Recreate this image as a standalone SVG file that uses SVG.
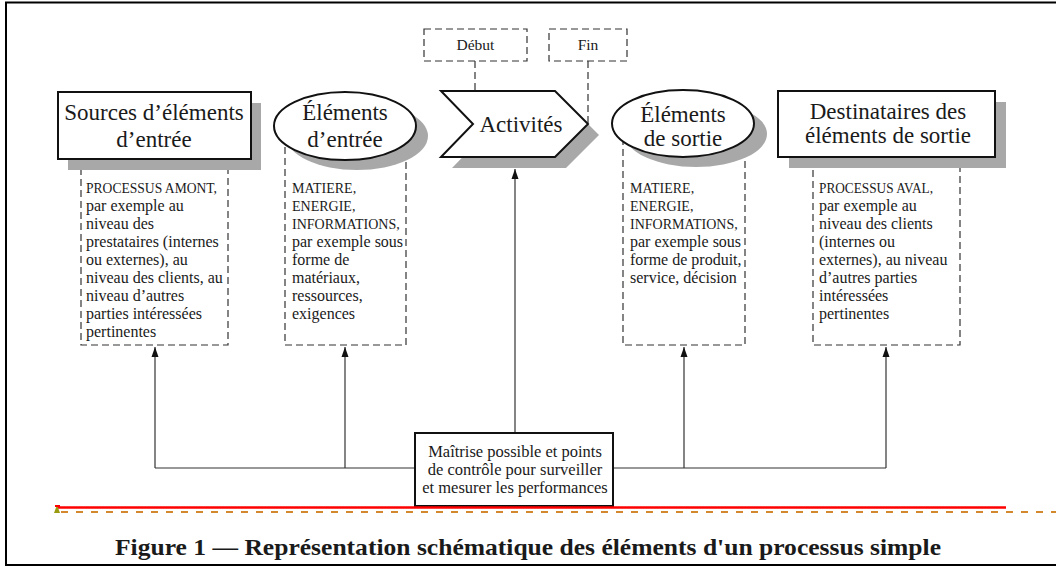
<svg xmlns="http://www.w3.org/2000/svg" width="1056" height="566" viewBox="0 0 1056 566">
<style>
.t{font-family:"Liberation Serif",serif;fill:#1a1a1a}
.big{font-size:23px;text-anchor:middle}
.body{font-size:16px}
.caps{font-size:14px}
.dash{fill:none;stroke:#333;stroke-width:1.2;stroke-dasharray:7 4}
.shape{fill:#fff;stroke:#111;stroke-width:2}
.shadow{fill:#a8a8a8}
.con{fill:none;stroke:#333;stroke-width:1.2}
</style>
<defs>
<marker id="ah" viewBox="0 0 10 10" refX="10" refY="5" markerWidth="10" markerHeight="10" markerUnits="userSpaceOnUse" orient="auto">
<path d="M0,1.5 L10,5 L0,8.5 Z" fill="#111"/>
</marker>
</defs>
<rect x="0" y="0" width="1056" height="566" fill="#fff"/>
<rect x="6" y="2.5" width="1060" height="562.5" fill="none" stroke="#000" stroke-width="2"/>

<g id="sources-details">
<rect class="dash" x="81" y="160" width="147" height="185"/>
<text class="t body" x="86" y="193"><tspan class="caps" textLength="131" lengthAdjust="spacingAndGlyphs">PROCESSUS AMONT,</tspan><tspan x="86" dy="18">par exemple au</tspan><tspan x="86" dy="18">niveau des</tspan><tspan x="86" dy="18">prestataires (internes</tspan><tspan x="86" dy="18">ou externes), au</tspan><tspan x="86" dy="18">niveau des clients, au</tspan><tspan x="86" dy="18">niveau d’autres</tspan><tspan x="86" dy="18">parties intéressées</tspan><tspan x="86" dy="18">pertinentes</tspan></text>
</g>
<g id="entree-details">
<rect class="dash" x="285" y="140" width="121" height="205"/>
<text class="t body" x="292" y="193"><tspan class="caps">MATIERE,</tspan><tspan class="caps" x="292" dy="18">ENERGIE,</tspan><tspan class="caps" x="292" dy="18">INFORMATIONS,</tspan><tspan x="292" dy="18">par exemple sous</tspan><tspan x="292" dy="18">forme de</tspan><tspan x="292" dy="18">matériaux,</tspan><tspan x="292" dy="18">ressources,</tspan><tspan x="292" dy="18">exigences</tspan></text>
</g>
<g id="sortie-details">
<rect class="dash" x="623" y="140" width="122" height="205"/>
<text class="t body" x="630" y="193"><tspan class="caps">MATIERE,</tspan><tspan class="caps" x="630" dy="18">ENERGIE,</tspan><tspan class="caps" x="630" dy="18">INFORMATIONS,</tspan><tspan x="630" dy="18">par exemple sous</tspan><tspan x="630" dy="18">forme de produit,</tspan><tspan x="630" dy="18">service, décision</tspan></text>
</g>
<g id="destinataires-details">
<rect class="dash" x="813" y="158" width="147" height="187"/>
<text class="t body" x="819" y="193"><tspan class="caps" textLength="114" lengthAdjust="spacingAndGlyphs">PROCESSUS AVAL,</tspan><tspan x="819" dy="18">par exemple au</tspan><tspan x="819" dy="18">niveau des clients</tspan><tspan x="819" dy="18">(internes ou</tspan><tspan x="819" dy="18">externes), au niveau</tspan><tspan x="819" dy="18">d’autres parties</tspan><tspan x="819" dy="18">intéressées</tspan><tspan x="819" dy="18">pertinentes</tspan></text>
</g>

<g id="connectors">
<path class="con" d="M155,468 H415 M613,468 H886"/>
<path class="con" d="M155,468 V347" marker-end="url(#ah)"/>
<path class="con" d="M345,468 V347" marker-end="url(#ah)"/>
<path class="con" d="M684,468 V347" marker-end="url(#ah)"/>
<path class="con" d="M886,468 V347" marker-end="url(#ah)"/>
<path class="con" d="M515,433 V169" marker-end="url(#ah)"/>
<path class="dash" d="M475,61 V124 M588,61 V124"/>
</g>

<g id="sources">
<rect class="shadow" x="68" y="103" width="193" height="67"/>
<rect class="shape" x="58" y="92" width="193" height="67"/>
<text class="t big" x="154" y="120">Sources d’éléments</text>
<text class="t big" x="154" y="147">d’entrée</text>
</g>
<g id="elements-entree">
<ellipse class="shadow" cx="357" cy="136" rx="71" ry="34"/>
<ellipse class="shape" cx="345" cy="126" rx="71" ry="34"/>
<text class="t big" x="345" y="120">Éléments</text>
<text class="t big" x="345" y="147">d’entrée</text>
</g>
<g id="activites">
<polygon class="shadow" points="452,102 566,102 599,135 566,168 452,168 484,135"/>
<polygon class="shape" points="441,91 555,91 588,124 555,157 441,157 473,124"/>
<text class="t big" x="521" y="132">Activités</text>
</g>
<g id="debut">
<rect class="dash" x="424" y="29" width="103" height="32"/>
<text class="t" x="475.5" y="50" font-size="15.5" text-anchor="middle">Début</text>
</g>
<g id="fin">
<rect class="dash" x="549" y="29" width="78" height="32"/>
<text class="t" x="588" y="50" font-size="15.5" text-anchor="middle">Fin</text>
</g>
<g id="elements-sortie">
<ellipse class="shadow" cx="696" cy="134" rx="71" ry="33"/>
<ellipse class="shape" cx="683" cy="123.5" rx="71" ry="33.5"/>
<text class="t big" x="683" y="122">Éléments</text>
<text class="t big" x="683" y="146">de sortie</text>
</g>
<g id="destinataires">
<rect class="shadow" x="789" y="102" width="217" height="66"/>
<rect class="shape" x="778" y="91" width="217" height="66"/>
<text class="t big" x="888" y="119">Destinataires des</text>
<text class="t big" x="888" y="143">éléments de sortie</text>
</g>
<g id="maitrise">
<rect class="shape" x="415" y="433" width="198" height="73"/>
<text class="t" x="515" y="457" font-size="16.5" text-anchor="middle">Maîtrise possible et points</text>
<text class="t" x="515" y="475" font-size="16.5" text-anchor="middle">de contrôle pour surveiller</text>
<text class="t" x="515" y="493" font-size="16.5" text-anchor="middle">et mesurer les performances</text>
</g>

<line x1="57" y1="507.5" x2="1006" y2="507.5" stroke="#ff0000" stroke-width="2.5"/>
<line x1="61" y1="512" x2="1056" y2="512" stroke="#d4882e" stroke-width="2" stroke-dasharray="7 8"/>
<polygon points="54,513 57,505 60,513" fill="#9a9a10"/>
<rect x="55" y="505" width="5" height="2" fill="#ff0000"/>

<text class="t" x="528" y="555" font-size="23" font-weight="bold" text-anchor="middle" textLength="826" lengthAdjust="spacingAndGlyphs">Figure 1 — Représentation schématique des éléments d'un processus simple</text>
</svg>
